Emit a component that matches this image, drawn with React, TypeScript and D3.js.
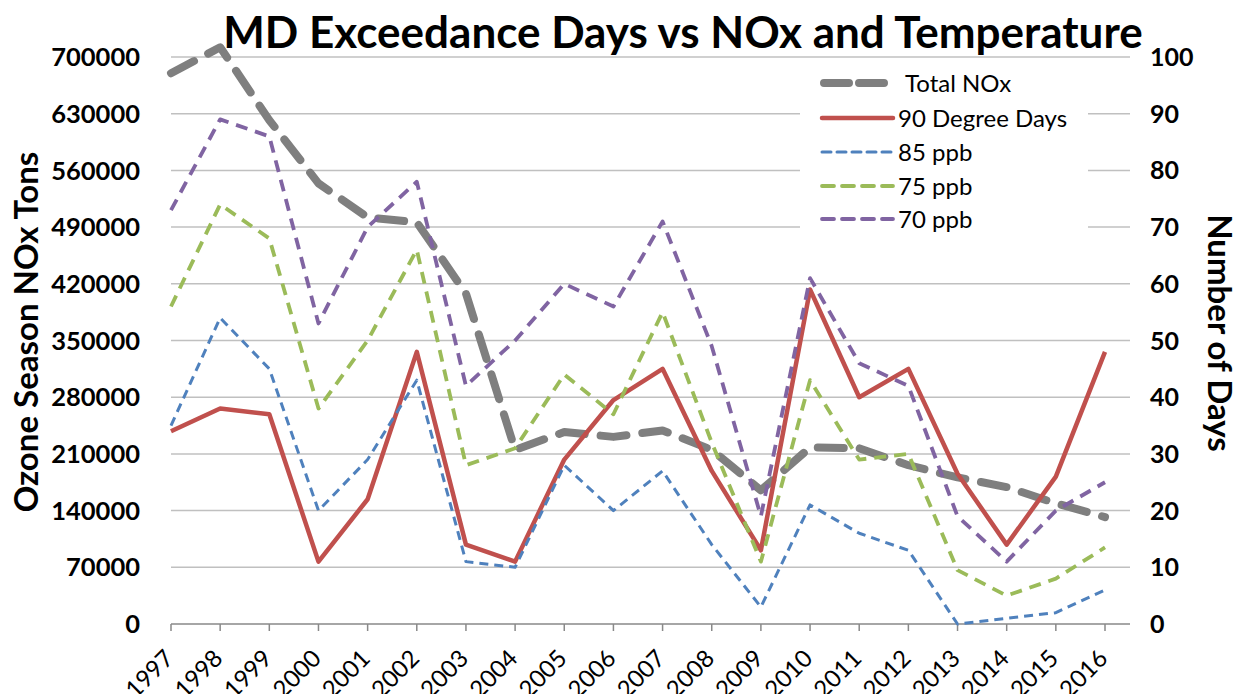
import React from 'react';
import * as d3 from 'd3';

const years = d3.range(1997, 2017);
const totalNOx = [680000, 712000, 622000, 544000, 502000, 496000, 408000, 215000, 237000, 231000, 239000, 215000, 165000, 218000, 217000, 196000, 181000, 169000, 149000, 132000];
const degreeDays90 = [34, 38, 37, 11, 22, 48, 14, 11, 29, 39.5, 45, 27, 13, 59, 40, 45, 26.5, 14, 26, 48];
const ppb85 = [35, 54, 45, 20, 29, 43, 11, 10, 28, 20, 27, 14, 3, 21, 16, 13, 0, 1, 2, 6];
const ppb75 = [56, 74, 68, 38, 50, 66, 28, 31, 44, 37, 55, 32, 11, 43, 29, 30, 9.5, 5, 8, 13.5];
const ppb70 = [73, 89, 86, 53, 70, 78, 42, 50, 60, 56, 71, 49, 19, 61, 46, 42, 19, 11, 20, 25];

const leftTicks = d3.range(0, 700001, 70000);
const rightTicks = d3.range(0, 101, 10);

const W = 1239;
const H = 694;
const left = 171;
const right = 1105;
const gridRight = 1130;
const top = 57;
const bottom = 624;

const font = 'Lato, "Open Sans", sans-serif';

const App: React.FC = () => {
  const x = d3.scaleLinear().domain([1997, 2016]).range([left, right]);
  const yL = d3.scaleLinear().domain([0, 700000]).range([bottom, top]);
  const yR = d3.scaleLinear().domain([0, 100]).range([bottom, top]);

  const lineL = d3.line<number>().x((_, i) => x(years[i])).y(d => yL(d));
  const lineR = d3.line<number>().x((_, i) => x(years[i])).y(d => yR(d));

  const series = [
    { name: 'Total NOx', d: lineL(totalNOx), color: '#7f7f7f', width: 8, dash: '26 16', cap: 'round' },
    { name: '90 Degree Days', d: lineR(degreeDays90), color: '#c0504d', width: 4.5, dash: null, cap: 'butt' },
    { name: '85 ppb', d: lineR(ppb85), color: '#4f81bd', width: 3, dash: '9 6', cap: 'butt' },
    { name: '75 ppb', d: lineR(ppb75), color: '#9bbb59', width: 3.8, dash: '12 8', cap: 'butt' },
    { name: '70 ppb', d: lineR(ppb70), color: '#8064a2', width: 3.8, dash: '12 8', cap: 'butt' },
  ];

  const legendY = [83, 118, 152, 186, 219];

  return (
    <svg width={W} height={H} style={{ position: 'absolute', left: 0, top: 0, background: '#fff' }}>
      {/* gridlines */}
      {leftTicks.slice(1).map(t => (
        <line key={t} x1={left} x2={gridRight} y1={yL(t)} y2={yL(t)} stroke="#c0c0c0" strokeWidth={1.5} />
      ))}
      {/* bottom axis */}
      <line x1={left} x2={gridRight} y1={bottom} y2={bottom} stroke="#898989" strokeWidth={1.5} />
      {years.map(yr => (
        <line key={yr} x1={x(yr)} x2={x(yr)} y1={bottom} y2={bottom + 7} stroke="#898989" strokeWidth={1.5} />
      ))}
      {years.map(yr => (
        <text
          key={yr}
          transform={`translate(${x(yr) + 4},${bottom + 36}) rotate(-45)`}
          textAnchor="end"
          fontFamily={font}
          fontSize={24}
          fill="#000"
        >
          {yr}
        </text>
      ))}
      {/* left ticks */}
      {leftTicks.map(t => (
        <text key={t} x={140} y={yL(t)} dy="0.36em" textAnchor="end" fontFamily={font} fontWeight="bold" fontSize={25.5}>
          {t}
        </text>
      ))}
      {/* right ticks */}
      {rightTicks.map(t => (
        <text key={t} x={1150} y={yR(t)} dy="0.36em" textAnchor="start" fontFamily={font} fontWeight="bold" fontSize={25}>
          {t}
        </text>
      ))}
      <text transform="translate(38,332) rotate(-90)" textAnchor="middle" fontFamily={font} fontWeight="bold" fontSize={33}>
        Ozone Season NOx Tons
      </text>
      <text transform="translate(1208,333) rotate(90)" textAnchor="middle" fontFamily={font} fontWeight="bold" fontSize={33}>
        Number of Days
      </text>
      <text x={683} y={48} textAnchor="middle" fontFamily={font} fontWeight="bold" fontSize={44}>
        MD Exceedance Days vs NOx and Temperature
      </text>
      {/* legend box */}
      <rect x={800} y={62} width={288} height={176} fill="#fff" />
      {/* series */}
      {series.map(s => (
        <path
          key={s.name}
          d={s.d ?? ''}
          fill="none"
          stroke={s.color}
          strokeWidth={s.width}
          strokeDasharray={s.dash ?? undefined}
          strokeLinecap={s.cap as any}
          strokeLinejoin="round"
        />
      ))}
      {/* legend */}
      {series.map((s, i) => (
        <g key={s.name}>
          <line
            x1={s.cap === 'round' ? 824 : 822}
            x2={s.cap === 'round' ? 887 : 893}
            y1={legendY[i]}
            y2={legendY[i]}
            stroke={s.color}
            strokeWidth={s.width}
            strokeDasharray={s.cap === 'round' ? '25 10' : s.dash ?? undefined}
            strokeLinecap="round"
          />
          <text
            x={i === 0 ? 905 : 898}
            y={legendY[i]}
            dy="0.36em"
            fontFamily={font}
            fontSize={24}
          >
            {s.name}
          </text>
        </g>
      ))}
    </svg>
  );
};

export default App;
